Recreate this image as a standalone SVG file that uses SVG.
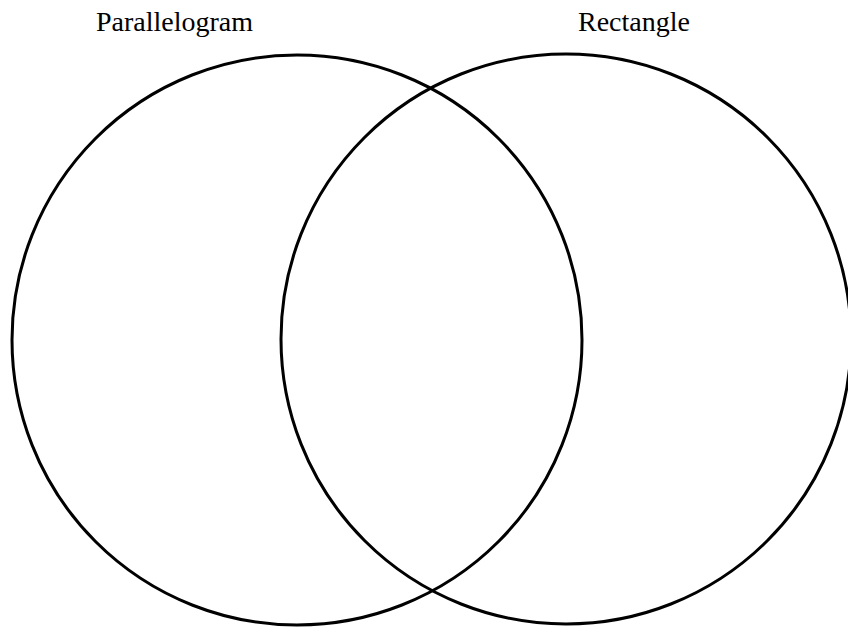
<svg xmlns="http://www.w3.org/2000/svg" width="848" height="631" viewBox="0 0 848 631">
<style>
.set{fill:none;stroke:#000;stroke-width:3}
.lbl{font-family:"Liberation Serif","Times New Roman",serif;font-size:28px;fill:#000}
</style>
<rect width="848" height="631" fill="#fff"/>
<g id="parallelogram">
<circle class="set" cx="297" cy="340" r="285"/>
<text class="lbl" x="96" y="31">Parallelogram</text>
</g>
<g id="rectangle">
<circle class="set" cx="566" cy="339" r="285"/>
<text class="lbl" x="578" y="31">Rectangle</text>
</g>
<g id="connectors"></g>
</svg>
